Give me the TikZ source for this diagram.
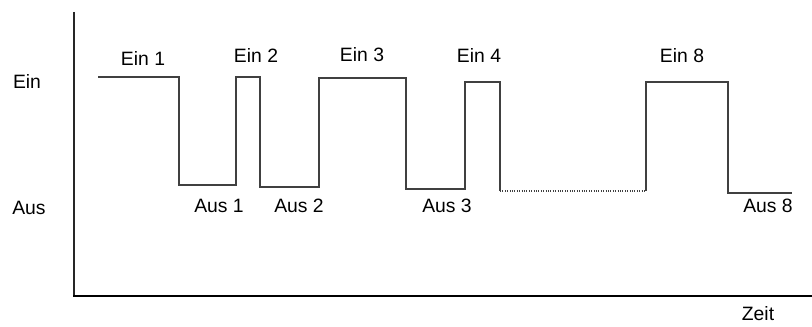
\documentclass[tikz,border=0pt]{standalone}
\usepackage{fontspec}
\setmainfont{Liberation Sans}
\begin{document}
\begin{tikzpicture}[x=0.75pt, y=-0.75pt, every node/.style={font=\fontsize{14.5}{17}\selectfont, inner sep=0pt}]
    \useasboundingbox (0,0) rectangle (812,327);

    % Achsen
    \draw[line width=1.5pt, black!85] (74,12) -- (74,296);
    \draw[line width=1.5pt, black] (73,296) -- (812,296);

    % Signalverlauf
    \draw[line width=0.8pt, black!75] (98,77) -- (179,77) -- (179,185) -- (236,185)
        -- (236,77) -- (260,77) -- (260,187) -- (319,187) -- (319,78) -- (406,78)
        -- (406,189) -- (465,189) -- (465,82) -- (500,82) -- (500,191);
    \draw[line width=0.8pt, black!75, densely dotted] (500,191) -- (646,191);
    \draw[line width=0.8pt, black!75] (646,191) -- (646,82) -- (728,82) -- (728,193) -- (792,193);

    % Beschriftung
    \node (ein)  at (27,81)  {Ein};
    \node (aus)  at (29,208) {Aus};
    \node (zeit) at (758,314) {Zeit};
    \node (ein1) at (143,58) {Ein 1};
    \node (ein2) at (256,55) {Ein 2};
    \node (ein3) at (362,55) {Ein 3};
    \node (ein4) at (479,55) {Ein 4};
    \node (ein8) at (682,56) {Ein 8};
    \node (aus1) at (219,206) {Aus 1};
    \node (aus2) at (299,206) {Aus 2};
    \node (aus3) at (447,206) {Aus 3};
    \node (aus8) at (768,206) {Aus 8};
\end{tikzpicture}
\end{document}
